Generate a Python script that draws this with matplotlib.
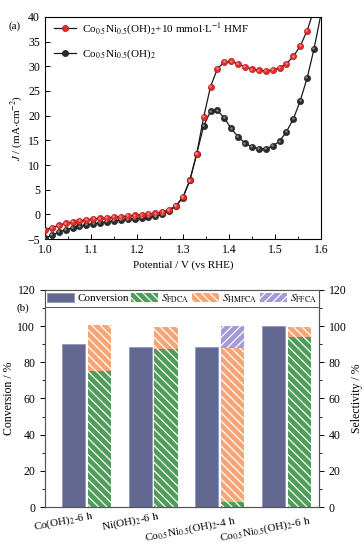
import numpy as np
import matplotlib
matplotlib.use("Agg")
import matplotlib.pyplot as plt
from matplotlib.transforms import ScaledTranslation

plt.rcParams["font.family"] = ["Liberation Serif", "DejaVu Serif"]
plt.rcParams["mathtext.fontset"] = "stix"
plt.rcParams["font.size"] = 8

# ---------------------------------------------------------------
# (a) LSV data
# ---------------------------------------------------------------
potential = np.round(np.arange(40) * 0.015 + 1.0, 3)   # 1.000 ... 1.585 V
j_hmf = [-3.1, -2.7, -2.2, -1.8, -1.55, -1.35, -1.1, -0.95, -0.8, -0.7,
         -0.55, -0.45, -0.35, -0.2, -0.05, 0.05, 0.2, 0.45, 0.95, 1.75,
         3.5, 6.9, 12.3, 19.7, 25.9, 29.5, 30.9, 31.0, 30.5, 29.9,
         29.4, 29.2, 29.1, 29.25, 29.7, 30.5, 32.0, 34.1, 37.2, 41.5]
potential_bare = np.round(np.arange(41) * 0.015 + 1.0, 3)  # 1.000 ... 1.600 V
j_bare = [-4.8, -4.2, -3.6, -3.1, -2.8, -2.4, -2.1, -1.9, -1.7, -1.5,
          -1.3, -1.15, -1.0, -0.9, -0.7, -0.55, -0.4, 0.0, 0.7, 1.7,
          3.4, 6.9, 12.3, 17.9, 20.9, 21.1, 19.5, 17.4, 15.7, 14.4,
          13.7, 13.3, 13.3, 13.85, 14.8, 16.75, 19.3, 23.0, 27.6, 33.5, 40.5]

# ---------------------------------------------------------------
# (b) conversion / selectivity data
# ---------------------------------------------------------------
samples = ["Co(OH)$_2$-6 h", "Ni(OH)$_2$-6 h",
           "Co$_{0.5}$Ni$_{0.5}$(OH)$_2$-4 h", "Co$_{0.5}$Ni$_{0.5}$(OH)$_2$-6 h"]
conversion = [90, 88.5, 88.5, 100]
s_fdca = [75, 87.5, 3, 94]
s_hmfca = [25.5, 12, 85, 5.5]
s_ffca = [0, 0, 12, 0]

fig = plt.figure(figsize=(3.64, 5.47), dpi=100)

# ---------------- panel (a) ----------------
ax1 = fig.add_axes([0.1236, 0.563, 0.758, 0.406])

def sphere(ax, x, y, face, light, edge, label):
    n = len(x)
    ax.plot(x, y, "-", color="#1a1a1a", lw=0.9, zorder=2)
    ax.plot(x[:n - 1], y[:n - 1], "o", ms=4.5, mfc=face, mec=edge, mew=0.4,
            zorder=3)
    shift = ax.transData + ScaledTranslation(-0.5 / 72, 0.5 / 72, fig.dpi_scale_trans)
    ax.plot(x[:n - 1], y[:n - 1], "o", ms=1.8, mfc=light, mec="none",
            alpha=0.8, zorder=4, transform=shift)
    ax.plot([], [], "-o", color="#1a1a1a", lw=0.9, ms=4.5, mfc=face,
            mec=edge, mew=0.4, label=label)

sphere(ax1, potential_bare, j_bare, "#2b2b2b", "#9a9a9a", "#111111",
       "Co$_{0.5}$Ni$_{0.5}$(OH)$_2$")
sphere(ax1, potential, j_hmf, "#e52a2a", "#ff9a9a", "#a01010",
       "Co$_{0.5}$Ni$_{0.5}$(OH)$_2$+10 mmol$\\cdot$L$^{-1}$ HMF")

h, l = ax1.get_legend_handles_labels()
ax1.legend(h[::-1], l[::-1], loc="upper left", bbox_to_anchor=(-0.005, 1.025),
           frameon=False, handlelength=2.0, handletextpad=0.6,
           labelspacing=0.95, fontsize=8)

ax1.set_xlim(1.0, 1.6)
ax1.set_ylim(-5, 40)
ax1.set_xticks(np.arange(1.0, 1.61, 0.1))
ax1.set_xticks(np.arange(1.05, 1.6, 0.1), minor=True)
ax1.set_xticklabels([f"{v:.1f}" for v in np.arange(1.0, 1.61, 0.1)])
ax1.set_yticks(np.arange(-5, 41, 5))
ax1.tick_params(direction="in", length=3.5, width=0.7, labelsize=8.5)
ax1.tick_params(which="minor", direction="in", length=2, width=0.6)
ax1.set_xlabel("Potential / V (vs RHE)", fontsize=8, labelpad=3)
ax1.set_ylabel("$J$ / (mA$\\cdot$cm$^{-2}$)", fontsize=8, labelpad=2)
for s in ax1.spines.values():
    s.set_linewidth(0.8)
fig.text(0.024, 0.948, "(a)", fontsize=8)

# ---------------- panel (b) ----------------
ax2 = fig.add_axes([0.1236, 0.0731, 0.753, 0.397])
x = np.arange(1, 5)
w = 0.346
off = 0.195
plt.rcParams["hatch.linewidth"] = 0.9

ax2.bar(x - off, conversion, w, color="#636891", edgecolor="#8d92b5",
        lw=0.5, label="Conversion", zorder=2)
ax2.bar(x + off, s_fdca, w, color="#4f9d59", edgecolor="white", lw=0,
        hatch="\\\\\\\\", label="$S_{\\mathrm{FDCA}}$", zorder=2)
ax2.bar(x + off, s_hmfca, w, bottom=s_fdca, color="#f6a676",
        edgecolor="white", lw=0, hatch="\\\\\\\\",
        label="$S_{\\mathrm{HMFCA}}$", zorder=2)
ax2.bar(x + off, s_ffca, w, bottom=np.add(s_fdca, s_hmfca), color="#a29bd8",
        edgecolor="white", lw=0, hatch="////",
        label="$S_{\\mathrm{FFCA}}$", zorder=2)

ax2.set_xlim(0.376, 4.496)
ax2.set_ylim(0, 120)
ax2.set_yticks(np.arange(0, 121, 20))
ax2.set_yticks(np.arange(10, 120, 20), minor=True)
ax2.set_xticks([])
ax2.tick_params(axis="y", direction="out", length=3.5, width=0.7, labelsize=8.5)
ax2.tick_params(axis="y", which="minor", direction="out", length=2, width=0.6)
ax2.set_ylabel("Conversion / %", fontsize=8.5, labelpad=2)

ax3 = ax2.twinx()
ax3.set_ylim(0, 120)
ax3.set_yticks(np.arange(0, 121, 20))
ax3.set_yticks(np.arange(10, 120, 20), minor=True)
ax3.tick_params(axis="y", direction="out", length=3.5, width=0.7, labelsize=8.5)
ax3.tick_params(axis="y", which="minor", direction="out", length=2, width=0.6)
ax3.set_ylabel("Selectivity / %", fontsize=8.5, labelpad=3)
for a in (ax2, ax3):
    for s in a.spines.values():
        s.set_linewidth(0.8)
        s.set_color("#555555")

leg = ax2.legend(loc="upper left", bbox_to_anchor=(0, 1, 1, 0),
                 mode="expand", ncol=4, borderaxespad=0, fontsize=8,
                 handlelength=2.4, handleheight=0.9, handletextpad=0.3,
                 columnspacing=0.6, borderpad=0.2, fancybox=False,
                 framealpha=1, edgecolor="#555555")
leg.get_frame().set_linewidth(0.7)

label_x = [0.647, 1.669, 2.556, 3.684]
label_y = [-0.069, -0.066, -0.106, -0.102]
for xi, yi, name in zip(label_x, label_y, samples):
    ax2.text(xi, yi, name, transform=ax2.get_xaxis_transform(), rotation=11,
             rotation_mode="anchor", ha="center", va="center", fontsize=8)
fig.text(0.045, 0.432, "(b)", fontsize=8)

fig.savefig("out.png", dpi=100)
